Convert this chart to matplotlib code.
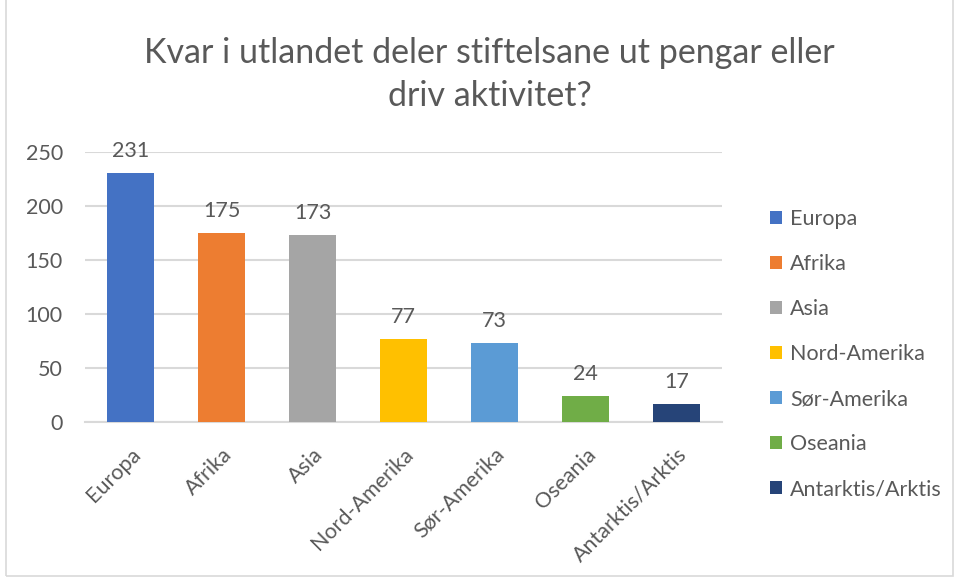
import numpy as np
import matplotlib.pyplot as plt
from matplotlib.patches import Patch, Rectangle

regions = ["Europa", "Afrika", "Asia", "Nord-Amerika", "Sør-Amerika", "Oseania", "Antarktis/Arktis"]
counts = [231, 175, 173, 77, 73, 24, 17]
colors = ["#4472C4", "#ED7D31", "#A5A5A5", "#FFC000", "#5B9BD5", "#70AD47", "#264478"]
yticks = [0, 50, 100, 150, 200, 250]

plt.rcParams['font.family'] = ['Lato', 'DejaVu Sans']
txt = "#595959"
grid = "#d9d9d9"

fig = plt.figure(figsize=(9.58, 5.78), dpi=100)
ax = fig.add_axes([0.0887, 0.27, 0.665, 0.467])

x = np.arange(len(regions))
bars = ax.bar(x, counts, width=0.52, color=colors, zorder=3)
for xi, v in zip(x, counts):
    ax.text(xi, v + 11, str(v), ha="center", va="bottom", fontsize=15.5, color=txt)

ax.set_xlim(-0.5, len(regions) - 0.5)
ax.set_ylim(0, 250)
ax.set_yticks(yticks)
ax.yaxis.grid(True, color=grid, linewidth=1.5, zorder=0)
for s in ["top", "right", "left"]:
    ax.spines[s].set_visible(False)
ax.spines["bottom"].set_color(grid)
ax.spines["bottom"].set_linewidth(1.5)
ax.tick_params(axis="both", length=0, labelsize=15.5, labelcolor=txt)
ax.tick_params(axis="y", pad=16)
ax.set_xticks(x)
ax.set_xticklabels(regions, rotation=45, ha="right", rotation_mode="anchor")
ax.tick_params(axis="x", pad=16)

fig.text(0.511, 0.871, "Kvar i utlandet deler stiftelsane ut pengar eller\ndriv aktivitet?",
         ha="center", va="center", fontsize=24.5, color=txt, linespacing=1.4)

handles = [Patch(facecolor=c, edgecolor="none") for c in colors]
fig.legend(handles, regions, loc="center left", bbox_to_anchor=(0.784, 0.387),
           frameon=False, fontsize=15.5, labelcolor=txt, handlelength=0.55,
           handleheight=0.55, handletextpad=0.35, labelspacing=1.16)

fig.patches.append(Rectangle((0.006, 0.004), 0.989, 1.2, transform=fig.transFigure,
                             fill=False, edgecolor=grid, linewidth=1.2))

plt.savefig("out.png", dpi=100)
